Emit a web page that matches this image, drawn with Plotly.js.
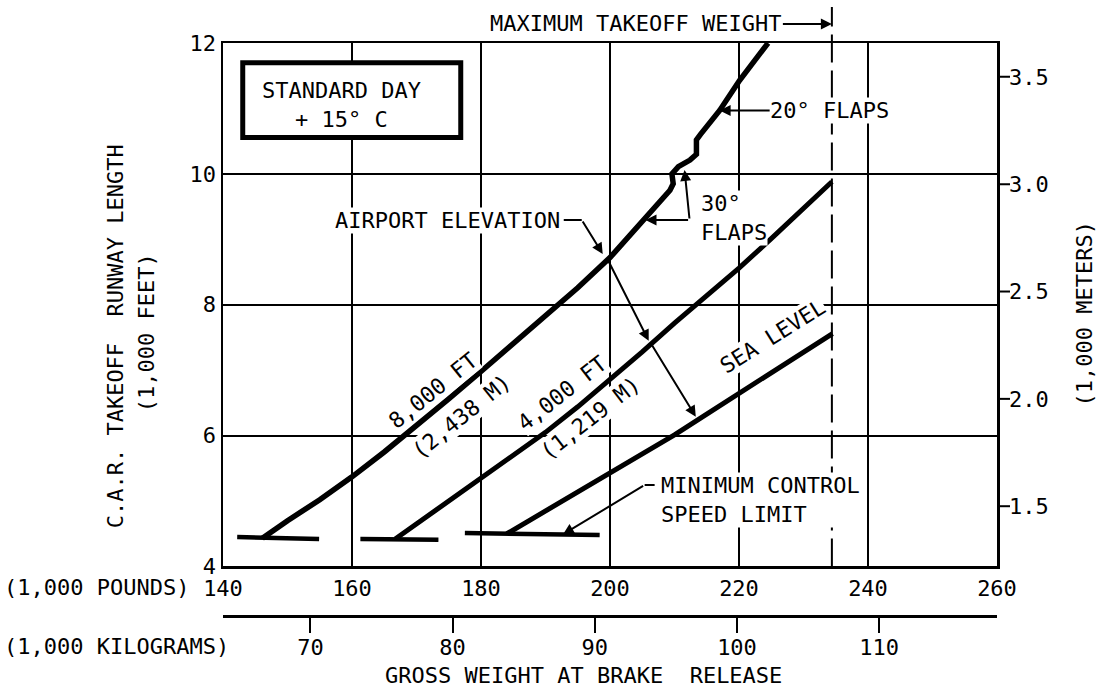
<!DOCTYPE html>
<html><head><meta charset="utf-8">
<script src="https://cdn.plot.ly/plotly-3.0.1.min.js"></script>
<style>html,body{margin:0;padding:0;background:#fff}#chart{width:1100px;height:688px}</style>
</head><body><div id="chart"></div>
<script>
// ---- data (gross weight in 1,000 lb, runway length in 1,000 ft) ----
const elev8000Weight = [146.1,150,155,160,165,170,175,180,185,190,195,200,205.1,209.3,209.8,209.6,210.6,212.4,213.4,213.4,214.0,217.0,220.1,224.5];
const elev8000Length = [4.43,4.70,5.02,5.37,5.75,6.15,6.56,6.98,7.40,7.82,8.26,8.72,9.30,9.75,9.85,10.0,10.11,10.21,10.30,10.52,10.60,10.97,11.43,12.0];
const elev4000Weight = [166.7,170,175,180,185,190,195,200,205,210,215,220,225,230,234.4];
const elev4000Length = [4.42,4.65,5.00,5.35,5.70,6.05,6.44,6.85,7.28,7.72,8.14,8.56,9.01,9.47,9.88];
const seaLevelWeight = [184.0,190,195,200,205,210,215,220,225,230,234.5];
const seaLevelLength = [4.50,4.85,5.14,5.43,5.72,6.01,6.33,6.65,6.96,7.27,7.56];
const minCtrlWeight = [142.2,154.9,null,161.3,173.4,null,177.5,198.4];
const minCtrlLength = [4.45,4.42,null,4.42,4.41,null,4.51,4.48];
const maxTakeoffWeight = 234.4;
const lbTicks = [140,160,180,200,220,240,260];
const ftTicks = [4,6,8,10,12];
const kgTicks = [70,80,90,100,110];
const mTicks = [1.5,2.0,2.5,3.0,3.5];
const LB_PER_KG = 2.20462, M_PER_FT = 0.3048;

const FONT = 'DejaVu Sans Mono, monospace';
const BLACK = '#000';
const yDom0 = 0.0864;
const PLOT_W = 1100 - 223 - 103;

const traces = [
  {x: elev8000Weight, y: elev8000Length, mode:'lines', line:{color:BLACK, width:5.5}, xaxis:'x', yaxis:'y', hoverinfo:'skip'},
  {x: elev4000Weight, y: elev4000Length, mode:'lines', line:{color:BLACK, width:5}, xaxis:'x', yaxis:'y', hoverinfo:'skip'},
  {x: seaLevelWeight, y: seaLevelLength, mode:'lines', line:{color:BLACK, width:5}, xaxis:'x', yaxis:'y', hoverinfo:'skip'},
  {x: minCtrlWeight, y: minCtrlLength, mode:'lines', connectgaps:false, line:{color:BLACK, width:4.5}, xaxis:'x', yaxis:'y', hoverinfo:'skip'},
  // same sea-level curve expressed in metres / kilograms, invisible, so the secondary axes have data
  {x: seaLevelWeight, y: seaLevelLength.map(v => v*M_PER_FT), mode:'lines', line:{color:'rgba(0,0,0,0)', width:0}, xaxis:'x', yaxis:'y2', hoverinfo:'skip'},
  {x: seaLevelWeight.map(v => v/LB_PER_KG), y: seaLevelLength, mode:'lines', line:{color:'rgba(0,0,0,0)', width:0}, xaxis:'x2', yaxis:'y', hoverinfo:'skip'}
];

function arrow(tx, ty, hx, hy){
  return {x:hx, y:hy, xref:'x', yref:'y', ax:tx, ay:ty, axref:'x', ayref:'y', text:'', showarrow:true,
          arrowhead:2, arrowsize:1.1, arrowwidth:2, arrowcolor:BLACK, standoff:0, startstandoff:0};
}
function label(x, y, text, extra){
  return Object.assign({x:x, y:y, xref:'x', yref:'y', text:text, showarrow:false, bgcolor:'#fff', borderpad:0,
          xanchor:'center', yanchor:'middle', font:{family:FONT, size:22, color:BLACK}}, extra||{});
}
function paperText(x, y, text, extra){
  return Object.assign({x:x, y:y, xref:'paper', yref:'paper', text:text, showarrow:false,
          xanchor:'center', yanchor:'middle', font:{family:FONT, size:22, color:BLACK}}, extra||{});
}

const annotations = [
  {x:maxTakeoffWeight, xref:'x', y:1.0332, yref:'paper', text:'MAXIMUM TAKEOFF WEIGHT', showarrow:true,
   ax:-196, ay:0, arrowhead:2, arrowsize:1.1, arrowwidth:2, arrowcolor:BLACK, standoff:0, font:{family:FONT, size:22, color:BLACK}},
  {x:217.0, y:10.97, xref:'x', yref:'y', text:'20° FLAPS', showarrow:true, ax:110, ay:0, bgcolor:'#fff', borderpad:0,
   arrowhead:2, arrowsize:1.1, arrowwidth:2, arrowcolor:BLACK, standoff:0, font:{family:FONT, size:22, color:BLACK}},
  label(213.89, 9.333, '30°<br>FLAPS', {xanchor:'left', align:'left'}),
  arrow(212.34, 9.295, 205.5, 9.295),
  arrow(212.34, 9.295, 211.56, 10.06),
  label(174.8, 9.295, 'AIRPORT ELEVATION'),
  arrow(195.62, 9.295, 198.87, 8.775),
  arrow(199.6, 8.70, 206.0, 7.45),
  arrow(206.4, 7.40, 213.3, 6.29),
  label(207.69, 5.016, 'MINIMUM CONTROL<br>SPEED LIMIT', {xanchor:'left', align:'left'}),
  arrow(205.37, 5.245, 192.7, 4.49),
  label(158.3, 11.045, 'STANDARD DAY<br>+ 15° C', {bgcolor:'rgba(0,0,0,0)'}),
  label(172.6, 6.69, '8,000 FT', {textangle:-39}),
  label(177.0, 6.29, '(2,438 M)', {textangle:-39}),
  label(192.5, 6.65, '4,000 FT', {textangle:-38}),
  label(196.9, 6.26, '(1,219 M)', {textangle:-38}),
  label(225.2, 7.52, 'SEA LEVEL', {textangle:-32}),
  // axis titles
  paperText(-0.1378, 0.4887, 'C.A.R. TAKEOFF\u00a0 RUNWAY LENGTH', {textangle:-90}),
  paperText(-0.0978, 0.4939, '(1,000 FEET)', {textangle:-90}),
  paperText(1.1136, 0.5279, '(1,000 METERS)', {textangle:-90}),
  paperText(-0.2851, 0.0489, '(1,000 POUNDS)', {xanchor:'left'}),
  paperText(-0.2851, -0.0541, '(1,000 KILOGRAMS)', {xanchor:'left'}),
  paperText(0.4653, -0.1030, 'GROSS WEIGHT AT BRAKE\u00a0 RELEASE')
];

const shapes = [
  {type:'line', xref:'x', yref:'paper', x0:maxTakeoffWeight, x1:maxTakeoffWeight, y0:yDom0, y1:1.0628,
   line:{color:BLACK, width:2, dash:'28px,8px'}},
  {type:'rect', xref:'x', yref:'y', x0:143.06, x1:176.86, y0:10.555, y1:11.70, line:{color:BLACK, width:5}, fillcolor:'#fff', layer:'above'},
  {type:'line', xref:'x', yref:'y', x0:192.83, x1:195.62, y0:9.295, y1:9.295, line:{color:BLACK, width:2}},
  {type:'line', xref:'x', yref:'y', x0:205.37, x1:206.92, y0:5.245, y1:5.245, line:{color:BLACK, width:2}}
].concat(mTicks.map(v => ({type:'line', xref:'paper', yref:'y2', x0:1, x1:1 + 13/PLOT_W, y0:v, y1:v,
   line:{color:BLACK, width:2}})));

const axisCommon = {color:BLACK, linecolor:BLACK, zeroline:false, fixedrange:true, tickfont:{family:FONT, size:22, color:BLACK}};

const layout = {
  width:1100, height:688,
  margin:{l:223, r:103, t:43, b:72, pad:0},
  paper_bgcolor:'#fff', plot_bgcolor:'#fff',
  showlegend:false,
  font:{family:FONT, size:22, color:BLACK},
  xaxis:Object.assign({}, axisCommon, {domain:[0,1], anchor:'y', range:[140,260], tickvals:lbTicks, showgrid:true,
    gridcolor:BLACK, gridwidth:1.8, showline:true, linewidth:2.5, mirror:true, ticks:'', ticklabelstandoff:1}),
  yaxis:Object.assign({}, axisCommon, {domain:[yDom0,1], anchor:'x', range:[4,12], tickvals:ftTicks, showgrid:true,
    gridcolor:BLACK, gridwidth:1.8, showline:true, linewidth:2.5, mirror:true, ticks:''}),
  yaxis2:Object.assign({}, axisCommon, {overlaying:'y', side:'right', anchor:'x', range:[4*M_PER_FT, 12*M_PER_FT],
    tickvals:mTicks, tickformat:'.1f', ticks:'', showgrid:false, showline:false, ticklabelstandoff:11}),
  xaxis2:Object.assign({}, axisCommon, {overlaying:'x', anchor:'free', position:0, side:'bottom',
    range:[140/LB_PER_KG + 0.35, 260/LB_PER_KG + 0.35], tickvals:kgTicks, ticks:'outside', ticklen:15, tickwidth:2,
    tickcolor:BLACK, showline:true, linewidth:3, showgrid:false, ticklabelstandoff:-4}),
  annotations:annotations,
  shapes:shapes
};

Plotly.newPlot('chart', traces, layout, {staticPlot:true, displayModeBar:false});
</script>
</body></html>
